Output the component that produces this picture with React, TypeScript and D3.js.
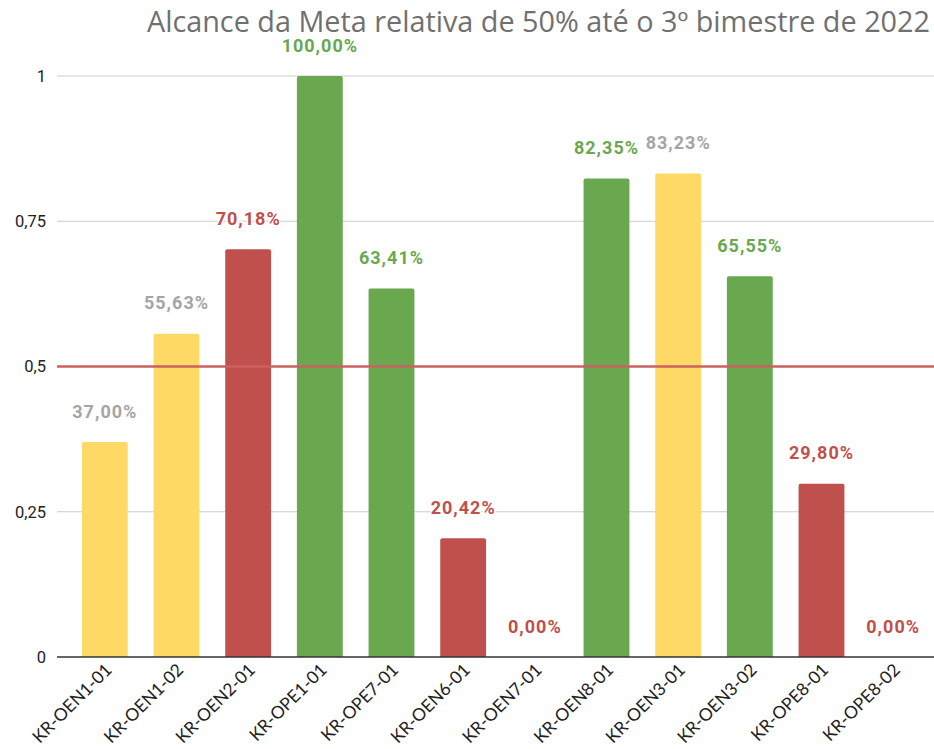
import React, { useEffect, useRef } from "react";
import * as d3 from "d3";

// dados do grafico
const categories = [
  "KR-OEN1-01",
  "KR-OEN1-02",
  "KR-OEN2-01",
  "KR-OPE1-01",
  "KR-OPE7-01",
  "KR-OEN6-01",
  "KR-OEN7-01",
  "KR-OEN8-01",
  "KR-OEN3-01",
  "KR-OEN3-02",
  "KR-OPE8-01",
  "KR-OPE8-02",
];
const values = [0.37, 0.5563, 0.7018, 1, 0.6341, 0.2042, 0, 0.8235, 0.8323, 0.6555, 0.298, 0];
// status de cada KR: "amarelo", "vermelho", "verde"
const status = [
  "amarelo",
  "amarelo",
  "vermelho",
  "verde",
  "verde",
  "vermelho",
  "vermelho",
  "verde",
  "amarelo",
  "verde",
  "vermelho",
  "vermelho",
];
const yTicks = [0, 0.25, 0.5, 0.75, 1];
const meta = 0.5;
const title = "Alcance da Meta relativa de 50% até o 3º bimestre de 2022";

const barColor: Record<string, string> = {
  amarelo: "#FFD966",
  vermelho: "#C0504D",
  verde: "#6AA84F",
};
const labelColor: Record<string, string> = {
  amarelo: "#A5A5A5",
  vermelho: "#C0504D",
  verde: "#6AA84F",
};

const W = 934;
const H = 749;

const fmt = (v: number) => (v * 100).toFixed(2).replace(".", ",") + "%";
const fmtTick = (v: number) => String(v).replace(".", ",");

const Chart = () => {
  const ref = useRef<SVGSVGElement>(null);

  useEffect(() => {
    const svg = d3.select(ref.current);
    svg.selectAll("*").remove();

    const plotLeft = 57;
    const plotRight = 934;

    const y = d3.scaleLinear().domain([0, 1]).range([657, 76]);
    const x = d3
      .scaleBand<string>()
      .domain(categories)
      .range([69, 929])
      .paddingInner(0.36)
      .paddingOuter(0.18);

    // linhas de grade
    svg
      .selectAll(".grid")
      .data(yTicks.filter((t) => t !== 0 && t !== meta))
      .enter()
      .append("line")
      .attr("x1", plotLeft)
      .attr("x2", plotRight)
      .attr("y1", (d) => y(d))
      .attr("y2", (d) => y(d))
      .attr("stroke", "#CCCCCC")
      .attr("stroke-width", 1);

    // rotulos eixo y
    svg
      .selectAll(".ytick")
      .data(yTicks)
      .enter()
      .append("text")
      .attr("x", 46)
      .attr("y", (d) => y(d))
      .attr("dy", "0.35em")
      .attr("text-anchor", "end")
      .attr("fill", "#222")
      .style("font-family", "Roboto, sans-serif")
      .style("font-size", "16.5px")
      .text(fmtTick);

    // barras com cantos superiores arredondados
    const r = 2;
    svg
      .selectAll(".bar")
      .data(values)
      .enter()
      .append("path")
      .attr("fill", (_, i) => barColor[status[i]])
      .attr("d", (d, i) => {
        const x0 = x(categories[i]) as number;
        const w = x.bandwidth();
        const y0 = y(d);
        const yb = y(0);
        if (yb - y0 < r) return "";
        return `M${x0},${yb}V${y0 + r}Q${x0},${y0} ${x0 + r},${y0}H${x0 + w - r}Q${x0 + w},${y0} ${x0 + w},${y0 + r}V${yb}Z`;
      });

    // linha da meta
    svg
      .append("line")
      .attr("x1", plotLeft)
      .attr("x2", plotRight)
      .attr("y1", y(meta))
      .attr("y2", y(meta))
      .attr("stroke", "#CC6161")
      .attr("stroke-width", 2.5);

    // eixo base
    svg
      .append("line")
      .attr("x1", plotLeft)
      .attr("x2", plotRight)
      .attr("y1", y(0))
      .attr("y2", y(0))
      .attr("stroke", "#333")
      .attr("stroke-width", 1.5);

    // titulo
    svg
      .append("text")
      .attr("x", 930)
      .attr("y", 32)
      .attr("text-anchor", "end")
      .attr("fill", "#707070")
      .style("font-family", "'Open Sans', sans-serif")
      .style("font-size", "28.8px")
      .text(title);

    // rotulos de valor
    svg
      .selectAll(".lbl")
      .data(values)
      .enter()
      .append("text")
      .attr("x", (_, i) => (x(categories[i]) as number) + x.bandwidth() / 2)
      .attr("y", (d) => y(d) - 24.5)
      .attr("text-anchor", "middle")
      .attr("fill", (_, i) => labelColor[status[i]])
      .attr("stroke", "#fff")
      .attr("stroke-width", 3)
      .attr("paint-order", "stroke")
      .style("font-family", "Roboto, sans-serif")
      .style("font-weight", "bold")
      .style("font-size", "18px")
      .style("letter-spacing", "1px")
      .text(fmt);

    // rotulos eixo x
    svg
      .selectAll(".xtick")
      .data(categories)
      .enter()
      .append("text")
      .attr("transform", (d) => {
        const cx = (x(d) as number) + x.bandwidth() / 2 + 8;
        return `translate(${cx},${671}) rotate(-45)`;
      })
      .attr("text-anchor", "end")
      .attr("fill", "#222")
      .style("font-family", "Lato, sans-serif")
      .style("font-size", "17.5px")
      .text((d) => d);
  }, []);

  return <svg ref={ref} width={W} height={H} style={{ display: "block" }} />;
};

export default function App() {
  return (
    <div style={{ position: "absolute", left: 0, top: 0 }}>
      <Chart />
    </div>
  );
}
